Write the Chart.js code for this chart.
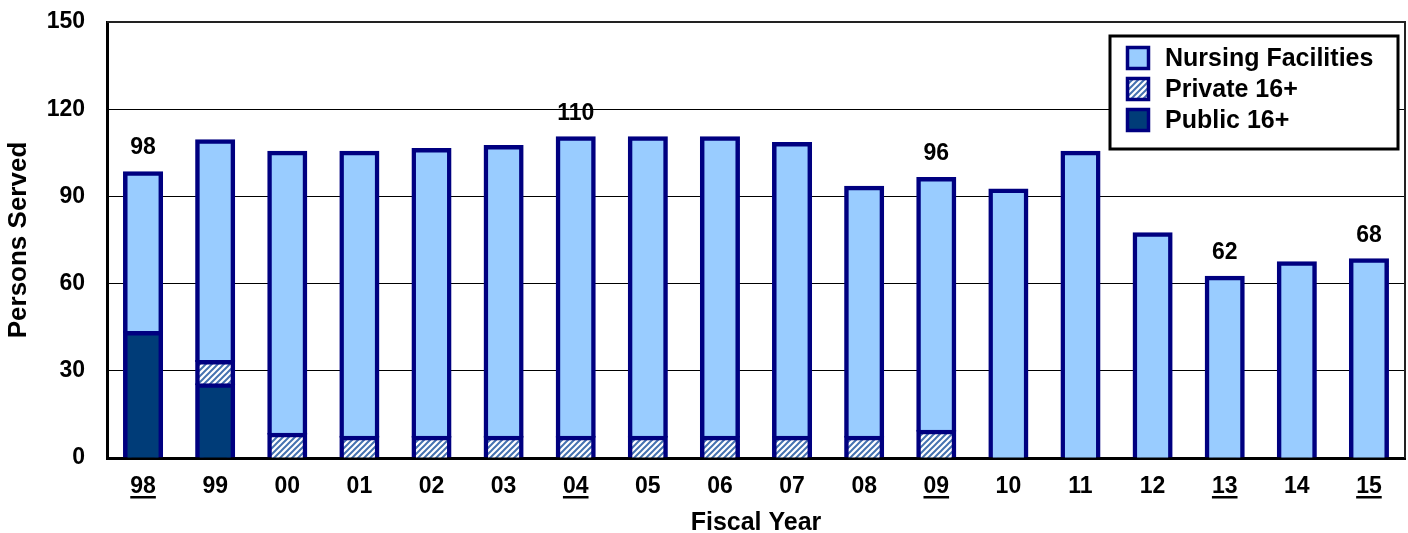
<!DOCTYPE html>
<html>
<head>
<meta charset="utf-8">
<script src="https://cdn.jsdelivr.net/npm/chart.js@4.4.1/dist/chart.umd.min.js"></script>
<style>
  html, body { margin: 0; padding: 0; background: #fff; }
  #wrap { width: 1408px; height: 533px; position: relative; }
</style>
</head>
<body>
<div id="wrap"><canvas id="personsChart"></canvas></div>
<script>
const fiscalYears = ["98", "99", "00", "01", "02", "03", "04", "05", "06", "07", "08", "09", "10", "11", "12", "13", "14", "15"];
const publicServed = [43, 25, null, null, null, null, null, null, null, null, null, null, null, null, null, null, null, null];
const privateServed = [null, 8, 8, 7, 7, 7, 7, 7, 7, 7, 7, 9, null, null, null, null, null, null];
const nursingServed = [55, 76, 97, 98, 99, 100, 103, 103, 103, 101, 86, 87, 92, 105, 77, 62, 67, 68];
// years that get a total label above the bar and an underlined tick
const labelledYears = ["98", "04", "09", "13", "15"];
const yMin = 0;
const yMax = 150;
const yStep = 30;

const FONT = "Arial, 'Liberation Sans', sans-serif";
const navy = "#000080";
const lightBlue = "#99ccff";
const darkBlue = "#003c78";

let ctx = document.getElementById("personsChart").getContext("2d");

function makeHatch() {
  let c = document.createElement("canvas");
  c.width = 6;
  c.height = 6;
  let g = c.getContext("2d");
  g.fillStyle = "#ffffff";
  g.fillRect(0, 0, 6, 6);
  g.strokeStyle = "#4572b0";
  g.lineWidth = 2;
  g.beginPath();
  g.moveTo(-1, 7); g.lineTo(7, -1);
  g.moveTo(-1, 1); g.lineTo(1, -1);
  g.moveTo(5, 7); g.lineTo(7, 5);
  g.stroke();
  return ctx.createPattern(c, "repeat");
}
const hatch = makeHatch();

function totalAt(i) {
  return (publicServed[i] || 0) + (privateServed[i] || 0) + (nursingServed[i] || 0);
}

// outer frame of the plot (top + right)
const frame = {
  id: "frame",
  beforeDatasetsDraw(chart) {
    let a = chart.chartArea;
    let c = chart.ctx;
    c.save();
    c.strokeStyle = "#222";
    c.lineWidth = 2;
    c.beginPath();
    c.moveTo(a.left, a.top);
    c.lineTo(a.right, a.top);
    c.lineTo(a.right, a.bottom);
    c.stroke();
    c.restore();
  },
};

// totals above some bars
const totals = {
  id: "totals",
  afterDatasetsDraw(chart) {
    let c = chart.ctx;
    let x = chart.scales.x;
    let y = chart.scales.y;
    c.save();
    c.font = "bold 23px " + FONT;
    c.fillStyle = "#000";
    c.textAlign = "center";
    c.textBaseline = "middle";
    fiscalYears.forEach((yr, i) => {
      if (labelledYears.includes(yr)) {
        let t = totalAt(i);
        c.fillText(String(t), x.getPixelForValue(i), y.getPixelForValue(t) - 25);
      }
    });
    c.restore();
  },
};

// underline selected tick labels
const underline = {
  id: "underline",
  afterDraw(chart) {
    let c = chart.ctx;
    let x = chart.scales.x;
    c.save();
    c.font = "bold 23px " + FONT;
    c.fillStyle = "#000";
    fiscalYears.forEach((yr, i) => {
      if (labelledYears.includes(yr)) {
        let w = c.measureText(yr).width;
        let cx = x.getPixelForValue(i);
        c.fillRect(cx - w / 2, 496, w, 2.5);
      }
    });
    c.restore();
  },
};

// boxed legend inside the plot, top right
const boxLegend = {
  id: "boxLegend",
  afterDraw(chart) {
    let c = chart.ctx;
    let items = chart.data.datasets.slice().reverse();
    c.save();
    c.fillStyle = "#fff";
    c.fillRect(1110, 36, 288, 113);
    c.strokeStyle = "#000";
    c.lineWidth = 3;
    c.strokeRect(1110, 36, 288, 113);
    c.font = "bold 25px " + FONT;
    c.textBaseline = "middle";
    items.forEach((ds, k) => {
      let cy = 58 + k * 31;
      c.fillStyle = ds.backgroundColor;
      c.fillRect(1126, cy - 12, 24, 24);
      c.strokeStyle = navy;
      c.lineWidth = 3.5;
      c.strokeRect(1127.5, cy - 10.5, 21, 21);
      c.fillStyle = "#000";
      c.fillText(ds.label, 1165, cy + 1);
    });
    c.restore();
  },
};

new Chart(ctx, {
  type: "bar",
  data: {
    labels: fiscalYears,
    datasets: [
      { label: "Public 16+", data: publicServed, backgroundColor: darkBlue },
      { label: "Private 16+", data: privateServed, backgroundColor: hatch },
      { label: "Nursing Facilities", data: nursingServed, backgroundColor: lightBlue },
    ],
  },
  options: {
    responsive: true,
    maintainAspectRatio: false,
    animation: false,
    layout: { padding: { top: 22, right: 3, left: 0, bottom: 0 } },
    datasets: {
      bar: {
        borderColor: navy,
        borderWidth: 4.5,
        borderSkipped: "start",
        barPercentage: 0.5,
        categoryPercentage: 1,
        inflateAmount: 2,
      },
    },
    plugins: {
      legend: { display: false },
      tooltip: { enabled: false },
    },
    scales: {
      x: {
        stacked: true,
        grid: { display: false },
        border: { color: "#000", width: 3 },
        ticks: {
          color: "#000",
          font: { family: FONT, size: 23, weight: "bold" },
          padding: 7,
          maxRotation: 0,
          autoSkip: false,
        },
        title: {
          display: true,
          text: "Fiscal Year",
          color: "#000",
          font: { family: FONT, size: 25, weight: "bold", lineHeight: 0.8 },
          padding: 0,
        },
        afterFit(s) {
          s.height = 75;
        },
      },
      y: {
        stacked: true,
        min: yMin,
        max: yMax,
        grid: { color: "#000", lineWidth: 1, drawTicks: false },
        border: { color: "#000", width: 3 },
        ticks: {
          stepSize: yStep,
          color: "#000",
          font: { family: FONT, size: 23, weight: "bold" },
          padding: 22,
        },
        title: {
          display: true,
          text: "Persons Served",
          color: "#000",
          font: { family: FONT, size: 26, weight: "bold" },
          padding: { top: 3, bottom: 0 },
        },
        afterFit(s) {
          s.width = 107;
          s.paddingTop = 0;
          s.paddingBottom = 0;
        },
      },
    },
  },
  plugins: [frame, totals, underline, boxLegend],
});
</script>
</body>
</html>
